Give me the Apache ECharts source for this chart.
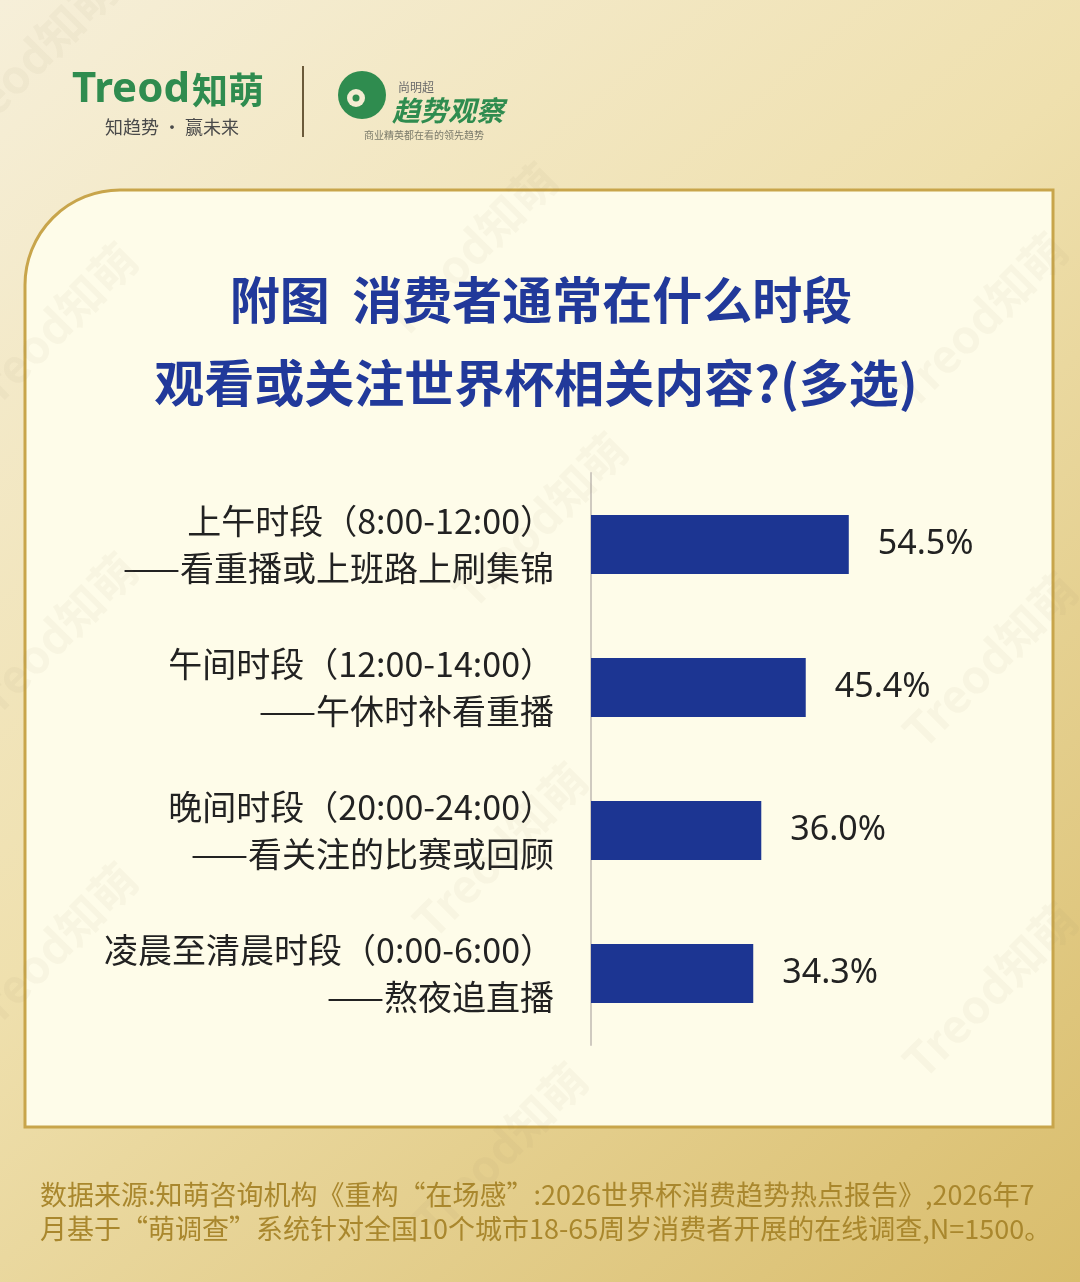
<!DOCTYPE html>
<html><head><meta charset="utf-8">
<style>html,body{margin:0;padding:0;background:#efe2b5;}#c{width:1080px;height:1282px;}</style>
<script src="https://cdn.jsdelivr.net/npm/echarts@6/dist/echarts.min.js"></script>
</head><body><div id="c"></div>
<script>
const categoryMain = ['上午时段（8:00-12:00）','午间时段（12:00-14:00）','晚间时段（20:00-24:00）','凌晨至清晨时段（0:00-6:00）'];
const categorySub = ['——看重播或上班路上刷集锦','——午休时补看重播','——看关注的比赛或回顾','——熬夜追直播'];
const shareValues = [54.5, 45.4, 36.0, 34.3];
const titleLines = ['附图  消费者通常在什么时段','观看或关注世界杯相关内容?(多选)'];
const footerLines = ['数据来源:知萌咨询机构《重构“在场感”:2026世界杯消费趋势热点报告》,2026年7','月基于“萌调查”系统针对全国10个城市18-65周岁消费者开展的在线调查,N=1500。'];

const cats = categoryMain.map((m,i)=> m + '\n' + categorySub[i]);
const CJK = '"Noto Sans CJK SC","Noto Sans",sans-serif';

const wmPos = [[470,250],[980,320],[50,330],[540,520],[990,660],[50,640],[500,850],[990,990],[50,950],[500,1150],[30,60]];
const watermarks = wmPos.map(p=>({
  type:'text', x:p[0], y:p[1], rotation: Math.PI/4, z:1, silent:true,
  style:{text:'Treod知萌', fill:'rgba(150,140,110,0.06)', font:'bold 46px '+CJK, textAlign:'center', textVerticalAlign:'middle'}
}));

const chart = echarts.init(document.getElementById('c'), null, {renderer:'canvas'});
chart.setOption({
  backgroundColor: {type:'linear', x:0, y:0, x2:1, y2:1, colorStops:[
    {offset:0,color:'#f6efd9'},{offset:0.45,color:'#efe0ae'},{offset:1,color:'#d9bd6c'}]},
  animation:false,
  graphic:[
    {type:'rect', z:0, silent:true, shape:{x:25,y:190,width:1028,height:937,r:[95,0,0,0]},
     style:{fill:'#fefce9', stroke:'#c8a54b', lineWidth:3}},
    ...watermarks,
    // left logo
    {type:'text', x:72, y:90, z:5, style:{text:'Treod', fill:'#2f8c4f', font:'bold 42px "Noto Sans",sans-serif', textVerticalAlign:'middle'}},
    {type:'text', x:192, y:90, z:5, style:{text:'知萌', fill:'#2f8c4f', font:'bold 36px '+CJK, textVerticalAlign:'middle'}},
    {type:'text', x:105, y:127, z:5, style:{text:'知趋势 · 赢未来', fill:'#4a4a4a', font:'18px '+CJK, textVerticalAlign:'middle'}},
    {type:'line', z:5, shape:{x1:303,y1:66,x2:303,y2:137}, style:{stroke:'#6b5a3a', lineWidth:2}},
    // right logo
    {type:'circle', z:5, shape:{cx:362,cy:95,r:24}, style:{fill:'#2f8c4f'}},
    {type:'circle', z:6, shape:{cx:356,cy:98,r:9}, style:{fill:'#f4ecd2'}},
    {type:'circle', z:7, shape:{cx:356,cy:98,r:3.5}, style:{fill:'#2f8c4f'}},
    {type:'text', x:398, y:87, z:5, style:{text:'尚明超', fill:'#6a6a6a', font:'12px '+CJK, textVerticalAlign:'middle'}},
    {type:'text', x:392, y:110, z:5, style:{text:'趋势观察', fill:'#2f8c4f', font:'bold italic 28px '+CJK, textVerticalAlign:'middle'}},
    {type:'text', x:364, y:135, z:5, style:{text:'商业精英都在看的领先趋势', fill:'#7a7a6a', font:'10px '+CJK, textVerticalAlign:'middle'}},
    // title
    {type:'text', x:541, y:300, z:5, style:{text:titleLines[0], fill:'#21399a', font:'bold 50px '+CJK, textAlign:'center', textVerticalAlign:'middle'}},
    {type:'text', x:536, y:383, z:5, style:{text:titleLines[1], fill:'#21399a', font:'bold 50px '+CJK, textAlign:'center', textVerticalAlign:'middle'}},
    // footer
    {type:'text', x:40, y:1195, z:5, style:{text:footerLines[0], fill:'#a9872d', font:'27px '+CJK, textVerticalAlign:'middle'}},
    {type:'text', x:40, y:1229, z:5, style:{text:footerLines[1], fill:'#a9872d', font:'27px '+CJK, textVerticalAlign:'middle'}}
  ],
  grid:{left:591, top:473, width:473, height:572, containLabel:false},
  xAxis:{type:'value', min:0, max:100, show:false},
  yAxis:{type:'category', inverse:true, data:cats,
    axisLine:{show:true, lineStyle:{color:'#cfcac0', width:2}},
    axisTick:{show:false}, splitLine:{show:false},
    axisLabel:{margin:37, align:'right', color:'#222', fontSize:34, lineHeight:47, fontFamily:CJK}
  },
  series:[{type:'bar', data:shareValues, barWidth:59, z:3,
    itemStyle:{color:'#1c3592'},
    label:{show:true, position:'right', distance:29, color:'#222', fontSize:34, fontFamily:'"Noto Sans","Open Sans",sans-serif',
      formatter:p=>p.value.toFixed(1)+'%'}
  }]
});
</script></body></html>
